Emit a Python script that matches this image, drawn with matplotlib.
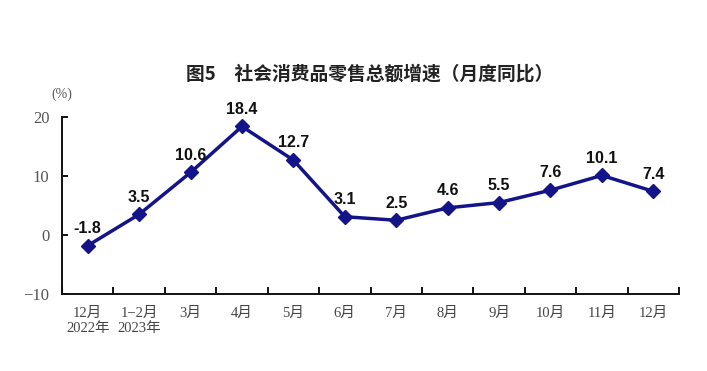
import matplotlib.pyplot as plt

plt.rcParams['font.family'] = ['Noto Sans CJK SC', 'DejaVu Sans']

months = ['12月\n2022年', '1−2月\n2023年', '3月', '4月', '5月', '6月', '7月',
          '8月', '9月', '10月', '11月', '12月']
growth = [-1.8, 3.5, 10.6, 18.4, 12.7, 3.1, 2.5, 4.6, 5.5, 7.6, 10.1, 7.4]
yticks = [-10, 0, 10, 20]

serif = ['Liberation Serif', 'Noto Sans CJK SC']
navy = '#13138a'

fig = plt.figure(figsize=(7.07, 3.71), dpi=100)
ax = fig.add_axes([0.0877, 0.2075, 0.8727, 0.4771])

x = list(range(len(growth)))
ax.plot(x, growth, color=navy, lw=2.5, marker='D', ms=7, zorder=3)

for xi, v in zip(x, growth):
    ax.annotate(f'{v}', (xi, v), xytext=(0, 7), textcoords='offset points',
                ha='center', va='bottom', fontsize=11.5, fontweight='bold',
                family='Liberation Sans', color='#111111')

ax.set_xlim(-0.5, len(growth) - 0.5)
ax.set_ylim(-10, 20)
ax.set_yticks(yticks)
ax.set_yticklabels([str(t).replace('-', '\u2212') for t in yticks],
                   family='Liberation Serif', fontsize=12, color='#555555')
ax.tick_params(axis='y', direction='in', length=4, width=1.3, pad=9)

ax.set_xticks([i - 0.5 for i in range(len(growth) + 1)])
ax.set_xticklabels([])
ax.set_xticks(x, minor=True)
ax.set_xticklabels(months, minor=True, family=serif, fontsize=10.5,
                   color='#444444', linespacing=1.2)
ax.tick_params(axis='x', which='major', direction='in', length=5, width=1.3)
ax.tick_params(axis='x', which='minor', length=0, pad=9)

for s in ['top', 'right']:
    ax.spines[s].set_visible(False)
for s in ['left', 'bottom']:
    ax.spines[s].set_linewidth(1.4)
    ax.spines[s].set_color('#111111')

fig.text(0.088, 0.735, '(%)', family='Liberation Serif', fontsize=10,
         color='#555555', ha='center')
fig.text(0.523, 0.785, '图5　社会消费品零售总额增速（月度同比）', ha='center',
         fontsize=13.5, fontweight='bold', color='#222222')

fig.savefig('out.png', dpi=100)
